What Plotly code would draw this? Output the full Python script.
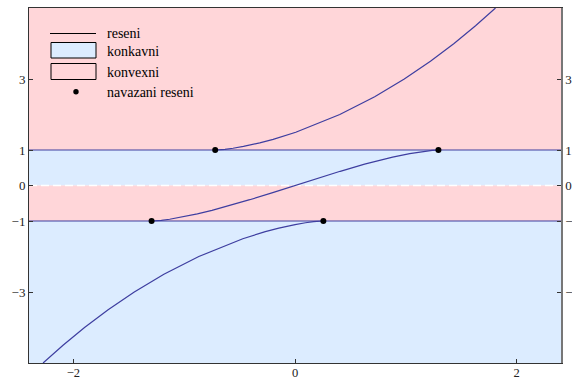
import plotly.graph_objects as go

# ---- data ----
# solution through y=-1 .. 1 (middle curve)
mid_x = [-1.294, -1.282, -1.238, -1.206, -1.131, -1.035, -0.881, -0.749, -0.628, -0.408, -0.201, 0.0,
         0.201, 0.408, 0.628, 0.749, 0.881, 1.035, 1.131, 1.206, 1.238, 1.282, 1.294]
mid_y = [-1.0, -0.999, -0.99, -0.98, -0.95, -0.9, -0.8, -0.7, -0.6, -0.4, -0.2, 0.0,
         0.2, 0.4, 0.6, 0.7, 0.8, 0.9, 0.95, 0.98, 0.99, 0.999, 1.0]
# upper solution (y > 1)
up_x = [-0.72, -0.701, -0.665, -0.632, -0.559, -0.465, -0.318, -0.197, 0.007, 0.404, 0.719, 0.986,
        1.222, 1.435, 1.629, 1.809]
up_y = [1.0, 1.002, 1.01, 1.02, 1.05, 1.1, 1.2, 1.3, 1.5, 2.0, 2.5, 3.0, 3.5, 4.0, 4.5, 5.0]
# lower solution (y < -1)
low_x = [0.256, 0.237, 0.201, 0.168, 0.095, 0.001, -0.146, -0.268, -0.471, -0.868, -1.183, -1.450,
         -1.686, -1.899, -2.093, -2.273]
low_y = [-1.0, -1.002, -1.01, -1.02, -1.05, -1.1, -1.2, -1.3, -1.5, -2.0, -2.5, -3.0, -3.5, -4.0,
         -4.5, -5.0]
# constant solutions
const_y = [1, -1]
x_range = [-2.4, 2.4]
y_range = [-5, 5]
# joining points
join_x = [-0.72, 1.294, -1.294, 0.256]
join_y = [1, 1, -1, -1]
# regions
concave_bands = [(0, 1), (-5, -1)]
convex_bands = [(1, 5), (-1, 0)]
x_ticks = [-2, 0, 2]
y_ticks = [-3, -1, 0, 1, 3]
legend_labels = ["reseni", "konkavni", "konvexni", "navazani reseni"]

PINK = "rgb(255,214,217)"
BLUE = "rgb(220,236,255)"
LINE = "rgb(62,62,160)"
FONT = "'Liberation Serif', 'Times New Roman', Times, serif"

fig = go.Figure()

shapes = []
for lo, hi in concave_bands:
    shapes.append(dict(type="rect", xref="paper", yref="y", x0=0, x1=1, y0=lo, y1=hi,
                       fillcolor=BLUE, line=dict(width=0), layer="below"))
for lo, hi in convex_bands:
    shapes.append(dict(type="rect", xref="paper", yref="y", x0=0, x1=1, y0=lo, y1=hi,
                       fillcolor=PINK, line=dict(width=0), layer="below"))
shapes.append(dict(type="line", xref="paper", yref="y", x0=0, x1=1, y0=0, y1=0,
                   line=dict(color="white", width=1.5, dash="8px,4px"), layer="below"))

for yc in const_y:
    fig.add_trace(go.Scatter(x=x_range, y=[yc, yc], mode="lines",
                             line=dict(color=LINE, width=1.2), showlegend=False, hoverinfo="skip"))
for xs, ys in [(mid_x, mid_y), (up_x, up_y), (low_x, low_y)]:
    fig.add_trace(go.Scatter(x=xs, y=ys, mode="lines",
                             line=dict(color=LINE, width=1.2), showlegend=False))
fig.add_trace(go.Scatter(x=join_x, y=join_y, mode="markers",
                         marker=dict(color="black", size=6), showlegend=False))
# invisible trace for right axis
fig.add_trace(go.Scatter(x=[None], y=[None], yaxis="y2", showlegend=False))

# ---- manual legend (pixel -> paper) ----
L, W, T, H = 29, 532, 8, 355
def px(x): return (x - L) / W
def py(y): return (T + H - y) / H

shapes.append(dict(type="line", xref="paper", yref="paper", x0=px(50), x1=px(96), y0=py(33.5), y1=py(33.5),
                   line=dict(color="black", width=1), layer="above"))
shapes.append(dict(type="rect", xref="paper", yref="paper", x0=px(51), x1=px(96), y0=py(58), y1=py(42.5),
                   fillcolor=BLUE, line=dict(color="black", width=1), layer="above"))
shapes.append(dict(type="rect", xref="paper", yref="paper", x0=px(51), x1=px(96), y0=py(79.5), y1=py(63.5),
                   fillcolor=PINK, line=dict(color="black", width=1), layer="above"))
shapes.append(dict(type="circle", xref="paper", yref="paper", x0=px(73.3), x1=px(78.7), y0=py(94.5), y1=py(89.1),
                   fillcolor="black", line=dict(color="black", width=0), layer="above"))

annots = []
for lab, yy in zip(legend_labels, [33, 51.5, 72, 92]):
    annots.append(dict(text=lab, xref="paper", yref="paper", x=px(105), y=py(yy), xanchor="left",
                       yanchor="middle", showarrow=False, font=dict(family=FONT, size=14, color="black")))

axis_common = dict(ticks="inside", ticklen=4, tickcolor="#333", showgrid=False, zeroline=False,
                   automargin=False, tickfont=dict(family=FONT, size=13, color="#222"))

fig.update_layout(
    width=572, height=381,
    margin=dict(l=29, r=11, t=8, b=18, autoexpand=False),
    paper_bgcolor="white", plot_bgcolor="white",
    font=dict(family=FONT),
    shapes=shapes, annotations=annots,
    xaxis=dict(range=x_range, tickvals=x_ticks, ticktext=["\u22122", "0", "2"],
               showline=True, linecolor="#333", linewidth=1, mirror=True, **axis_common),
    yaxis=dict(range=y_range, tickvals=y_ticks, ticktext=["\u22123", "\u22121", "0", "1", "3"],
               showline=True, linecolor="#333", linewidth=1, **axis_common),
    yaxis2=dict(range=y_range, tickvals=y_ticks, ticktext=["\u22123", "\u22121", "0", "1", "3"],
                overlaying="y", side="right", showline=True, linecolor="#777", linewidth=1.5,
                **axis_common),
    showlegend=False,
)
fig.update_xaxes(ticklabelstandoff=-2, tickfont=dict(size=12.5))

fig.write_html("out.html", config={"displayModeBar": False},
               post_script="document.body.style.margin='0';document.body.style.overflow='hidden';")
